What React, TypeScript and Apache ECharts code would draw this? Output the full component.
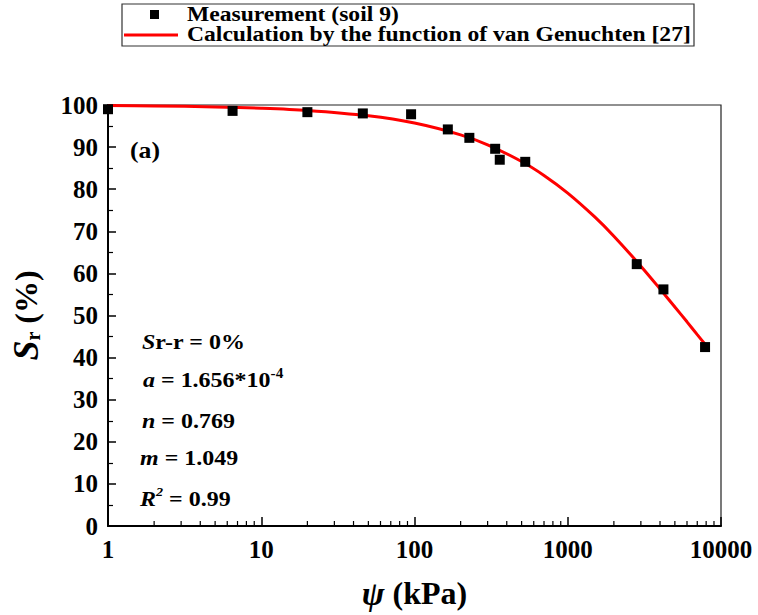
import React, { useEffect, useRef } from "react";
import * as echarts from "echarts";

// Measured data (soil 9)
const measPsi = [1, 6.5, 20, 46, 95, 165, 228, 336, 360, 528, 2820, 4210, 7870];
const measSr = [99.0, 98.6, 98.3, 98.0, 97.8, 94.2, 92.2, 89.6, 87.0, 86.5, 62.2, 56.2, 42.5];

// Fitted van Genuchten curve
const curvePsi = [1, 2, 5, 10, 20, 50, 100, 200, 300, 500, 700, 1000, 1500, 2000, 3000, 4000, 5000, 6000, 7000, 8000];
const curveSr = [99.87, 99.78, 99.55, 99.24, 98.72, 97.44, 95.71, 92.9, 90.54, 86.58, 83.27, 79.07, 73.41, 68.84, 61.72, 56.32, 52.01, 48.5, 45.46, 42.88];

// Minor tick positions on the log axis
const minorTickValues: number[] = [];
[1, 10, 100, 1000].forEach((d) => {
  for (let k = 2; k <= 9; k++) minorTickValues.push(d * k);
});

const seriesNames = ["Measurement (soil 9)", "Calculation by the function of van Genuchten [27]"];

const FONT = "'Liberation Serif', 'Times New Roman', serif";

const bold = (size: number, italic = false) => ({
  fontFamily: FONT,
  fontSize: size,
  fontWeight: "bold",
  fontStyle: italic ? "italic" : "normal",
  fill: "#000",
});

export default function App() {
  const ref = useRef<HTMLDivElement>(null);
  useEffect(() => {
    document.body.style.margin = "0";
    const chart = echarts.init(ref.current!, null, { renderer: "svg" });
    const paramText = (x: number, y: number, text: string, rich: any) => ({
      type: "text",
      x,
      y,
      scaleX: 1.09,
      style: { text, verticalAlign: "middle", rich },
    });
    const option: any = {
      animation: false,
      backgroundColor: "#fff",
      grid: {
        left: 107,
        top: 105,
        right: 37,
        bottom: 89,
        show: true,
        borderColor: "#222",
        borderWidth: 1.2,
      },
      xAxis: {
        type: "log",
        logBase: 10,
        min: 1,
        max: 10000,
        name: "{i|ψ}{n| (kPa)}",
        nameLocation: "middle",
        nameGap: 50,
        nameTextStyle: {
          rich: {
            i: { fontFamily: FONT, fontSize: 34, fontWeight: "bold", fontStyle: "italic", color: "#000" },
            n: { fontFamily: FONT, fontSize: 32, fontWeight: "bold", color: "#000" },
          },
        },
        axisLine: { lineStyle: { color: "#000", width: 2 } },
        axisTick: { inside: true, length: 9, lineStyle: { color: "#000", width: 1.5 } },
        axisLabel: {
          fontFamily: FONT,
          fontSize: 25,
          fontWeight: "bold",
          color: "#000",
          margin: 11,
          formatter: (v: number) => String(Math.round(v)),
        },
        splitLine: { show: false },
      },
      yAxis: {
        type: "value",
        min: 0,
        max: 100,
        interval: 10,
        name: "{s|S}{r|r}{n| (%)}",
        nameLocation: "middle",
        nameRotate: 90,
        nameGap: 64,
        nameTextStyle: {
          rich: {
            s: { fontFamily: FONT, fontSize: 36, fontWeight: "bold", fontStyle: "italic", color: "#000" },
            r: { fontFamily: FONT, fontSize: 20, fontWeight: "bold", color: "#000", padding: [14, 0, 0, 0] },
            n: { fontFamily: FONT, fontSize: 32, fontWeight: "bold", color: "#000" },
          },
        },
        axisLine: { show: true, lineStyle: { color: "#000", width: 2 } },
        axisTick: { show: true, inside: true, length: 8, lineStyle: { color: "#000", width: 1.5 } },
        minorTick: { show: true, splitNumber: 2, length: 5, lineStyle: { color: "#000", width: 1.2 } },
        axisLabel: {
          fontFamily: FONT,
          fontSize: 25,
          fontWeight: "bold",
          color: "#000",
          margin: 10,
        },
        splitLine: { show: false },
      },
      series: [
        {
          name: seriesNames[1],
          type: "line",
          data: curvePsi.map((x, i) => [x, curveSr[i]]),
          symbol: "none",
          smooth: 0.3,
          lineStyle: { color: "#ff0000", width: 3 },
          z: 3,
        },
        {
          name: seriesNames[0],
          type: "scatter",
          data: measPsi.map((x, i) => [x, measSr[i]]),
          symbol: "rect",
          symbolSize: 10,
          itemStyle: { color: "#000", opacity: 1 },
          clip: false,
          z: 4,
        },
        {
          type: "custom",
          silent: true,
          data: minorTickValues.map((v) => [v, 0]),
          renderItem: (params: any, api: any) => {
            const p = api.coord([api.value(0), 0]);
            return {
              type: "line",
              shape: { x1: p[0], y1: p[1], x2: p[0], y2: p[1] - 5 },
              style: { stroke: "#000", lineWidth: 1.2 },
            };
          },
          z: 5,
        },
      ],
      graphic: [
        {
          type: "rect",
          shape: { x: 122, y: 4, width: 572, height: 42 },
          style: { fill: "#fff", stroke: "#333", lineWidth: 1.2 },
        },
        {
          type: "rect",
          shape: { x: 150, y: 10, width: 9, height: 9 },
          style: { fill: "#000" },
        },
        {
          type: "line",
          shape: { x1: 124, y1: 35, x2: 178, y2: 35 },
          style: { stroke: "#ff0000", lineWidth: 3 },
        },
        {
          type: "text",
          x: 187,
          y: 14.5,
          scaleX: 1.18,
          style: {
            text: seriesNames[0],
            ...bold(20),
            lineHeight: 20,
            verticalAlign: "middle",
          },
        },
        {
          type: "text",
          x: 187,
          y: 35,
          scaleX: 1.18,
          style: {
            text: seriesNames[1],
            ...bold(20),
            lineHeight: 20,
            verticalAlign: "middle",
          },
        },
        {
          type: "text",
          x: 130,
          y: 150,
          scaleX: 1.12,
          style: {
            text: "(a)",
            ...bold(23),
            verticalAlign: "middle",
          },
        },
        paramText(142, 341, "{i|S}{n|r-r = 0%}", { i: bold(22, true), n: bold(22) }),
        paramText(143, 379, "{i|a}{n| = 1.656*10}{s|-4}", {
          i: bold(22, true),
          n: bold(22),
          s: { ...bold(14), padding: [0, 0, 12, 0] },
        }),
        paramText(142, 420, "{i|n}{n| = 0.769}", { i: bold(22, true), n: bold(22) }),
        paramText(140, 457, "{i|m}{n| = 1.049}", { i: bold(22, true), n: bold(22) }),
        paramText(140, 498, "{i|R}{s|2}{n| = 0.99}", {
          i: bold(22, true),
          s: { ...bold(13, true), padding: [0, 0, 12, 0] },
          n: bold(22),
        }),
      ],
    };
    chart.setOption(option);
    return () => chart.dispose();
  }, []);
  return (
    <div
      ref={ref}
      style={{ position: "absolute", left: 0, top: 0, width: 758, height: 615 }}
    />
  );
}
